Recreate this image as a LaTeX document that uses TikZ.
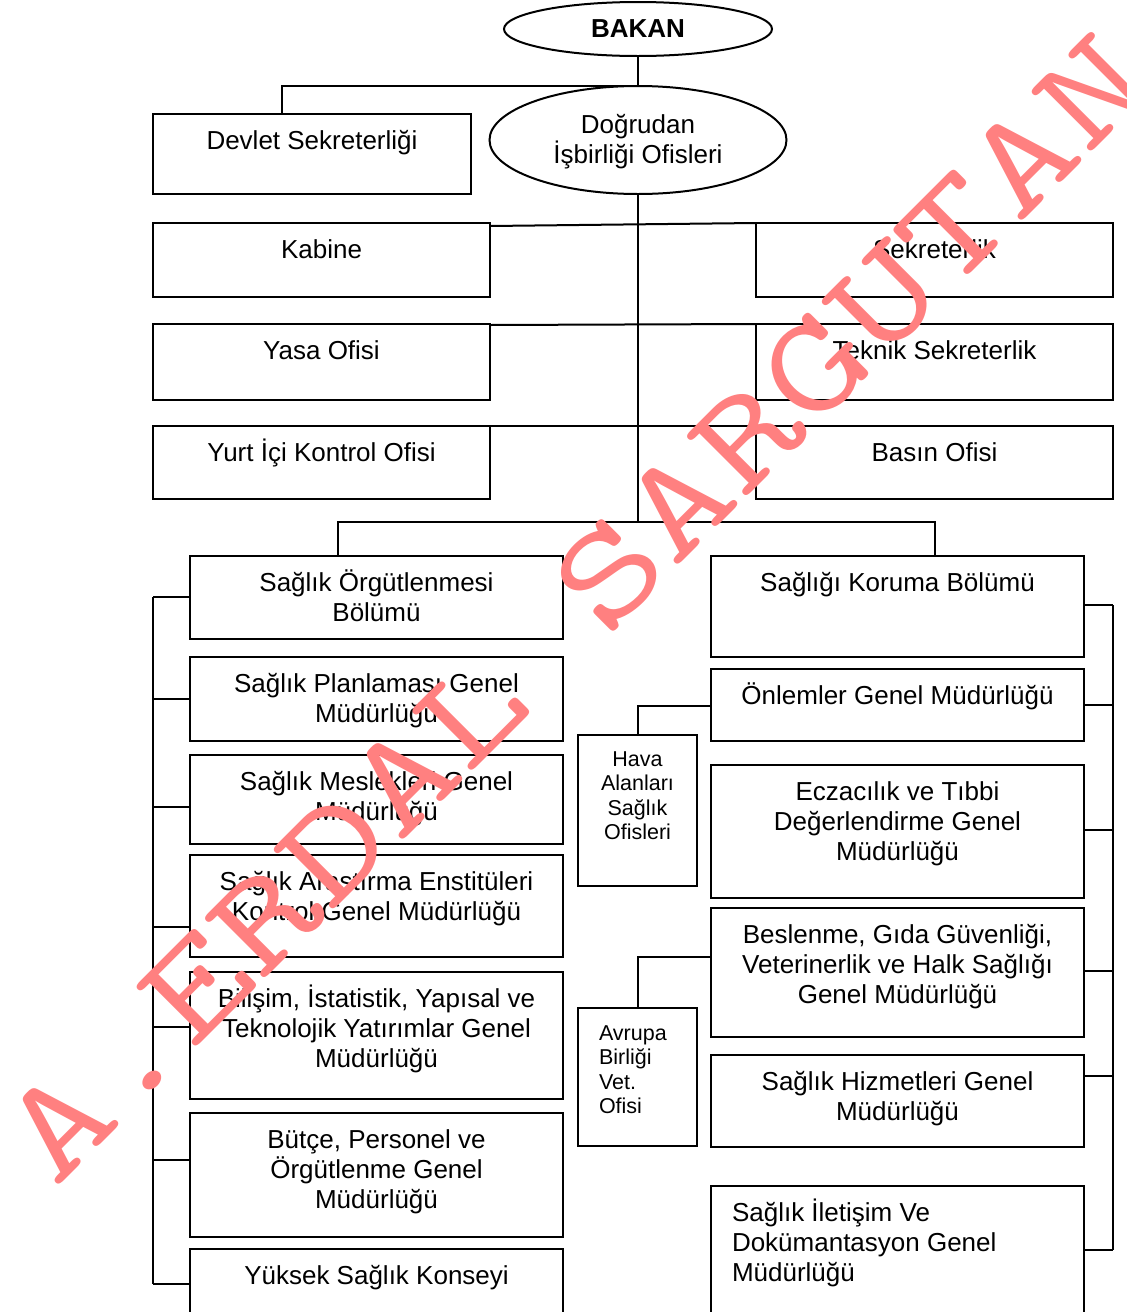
\documentclass[tikz,border=0pt]{standalone}
\usepackage{fontspec}
\setmainfont{Liberation Sans}
\newfontfamily\wmfont[FakeStretch=1.34]{Latin Modern Mono}
\usetikzlibrary{shapes.geometric}
\definecolor{wmc}{RGB}{255,128,128}
\newcommand{\ct}[1]{\parbox[t]{370pt}{\centering #1}}
\newcommand{\lt}[2]{\parbox[t]{#1}{\raggedright #2}}
\tikzset{
  bx/.style={draw, line width=2pt, inner sep=0pt, outer sep=0pt, anchor=north west},
  ov/.style={draw, ellipse, line width=2pt, inner sep=0pt, outer sep=0pt},
  cn/.style={line width=2pt},
  tbig/.style={font=\fontsize{26}{30}\selectfont, inner sep=0pt, outer sep=0pt, anchor=base},
  tsmall/.style={font=\fontsize{21.5}{24.6}\selectfont, inner sep=0pt, outer sep=0pt, anchor=base},
  wm/.style={text=wmc, font=\wmfont\fontsize{141}{141}\selectfont, inner sep=0pt, outer sep=0pt, rotate=45, anchor=base west}
}
\begin{document}
\begin{tikzpicture}[x=1pt,y=-1pt]
\useasboundingbox (0,0) rectangle (1127,1312);
\clip (0,0) rectangle (1127,1312);
\fill[white] (0,0) rectangle (1127,1312);

% top
\node[ov, minimum width=268pt, minimum height=54pt, font=\bfseries\fontsize{26}{30}\selectfont] (bakan) at (638,29) {BAKAN};
\node[ov, minimum width=297pt, minimum height=108pt] (dogru) at (638,140) {};
\node[tbig] (dogruT) at ([yshift=7pt]dogru.center) {\ct{Doğrudan\\İşbirliği Ofisleri}};

\node[bx, minimum width=318pt, minimum height=80pt] (devlet) at (153,114) {};
\node[bx, minimum width=337pt, minimum height=74pt] (kabine) at (153,223) {};
\node[bx, minimum width=357pt, minimum height=74pt] (sek) at (756,223) {};
\node[bx, minimum width=337pt, minimum height=76pt] (yasa) at (153,324) {};
\node[bx, minimum width=357pt, minimum height=76pt] (teknik) at (756,324) {};
\node[bx, minimum width=337pt, minimum height=73pt] (yurt) at (153,426) {};
\node[bx, minimum width=357pt, minimum height=73pt] (basin) at (756,426) {};

\node[tbig] (devletT) at ([yshift=-35pt]devlet.north) {Devlet Sekreterliği};
\node[tbig] (kabineT) at ([yshift=-35pt]kabine.north) {Kabine};
\node[tbig] (sekT) at ([yshift=-35pt]sek.north) {Sekreterlik};
\node[tbig] (yasaT) at ([yshift=-35pt]yasa.north) {Yasa Ofisi};
\node[tbig] (teknikT) at ([yshift=-35pt]teknik.north) {Teknik Sekreterlik};
\node[tbig] (yurtT) at ([yshift=-35pt]yurt.north) {Yurt İçi Kontrol Ofisi};
\node[tbig] (basinT) at ([yshift=-35pt]basin.north) {Basın Ofisi};

% left column
\node[bx, minimum width=373pt, minimum height=83pt] (orgut) at (190,556) {};
\node[bx, minimum width=373pt, minimum height=84pt] (plan) at (190,657) {};
\node[bx, minimum width=373pt, minimum height=89pt] (meslek) at (190,755) {};
\node[bx, minimum width=373pt, minimum height=102pt] (arastirma) at (190,855) {};
\node[bx, minimum width=373pt, minimum height=127pt] (bilisim) at (190,972) {};
\node[bx, minimum width=373pt, minimum height=124pt] (butce) at (190,1113) {};
\node[bx, minimum width=373pt, minimum height=90pt] (yuksek) at (190,1249) {};

\node[tbig] (orgutT) at ([yshift=-35pt]orgut.north) {\ct{Sağlık Örgütlenmesi\\Bölümü}};
\node[tbig] (planT) at ([yshift=-35pt]plan.north) {\ct{Sağlık Planlaması Genel\\Müdürlüğü}};
\node[tbig] (meslekT) at ([yshift=-35pt]meslek.north) {\ct{Sağlık Meslekleri Genel\\Müdürlüğü}};
\node[tbig] (arastirmaT) at ([yshift=-35pt]arastirma.north) {\ct{Sağlık Araştırma Enstitüleri\\Kontrol Genel Müdürlüğü}};
\node[tbig] (bilisimT) at ([yshift=-35pt]bilisim.north) {\ct{Bilişim, İstatistik, Yapısal ve\\Teknolojik Yatırımlar Genel\\Müdürlüğü}};
\node[tbig] (butceT) at ([yshift=-35pt]butce.north) {\ct{Bütçe, Personel ve\\Örgütlenme Genel\\Müdürlüğü}};
\node[tbig] (yuksekT) at ([yshift=-35pt]yuksek.north) {Yüksek Sağlık Konseyi};

% right column
\node[bx, minimum width=373pt, minimum height=101pt] (koruma) at (711,556) {};
\node[bx, minimum width=373pt, minimum height=72pt] (onlem) at (711,669) {};
\node[bx, minimum width=373pt, minimum height=133pt] (eczaci) at (711,765) {};
\node[bx, minimum width=373pt, minimum height=129pt] (beslenme) at (711,908) {};
\node[bx, minimum width=373pt, minimum height=92pt] (hizmet) at (711,1055) {};
\node[bx, minimum width=373pt, minimum height=140pt] (iletisim) at (711,1186) {};

\node[tbig] (korumaT) at ([yshift=-35pt]koruma.north) {Sağlığı Koruma Bölümü};
\node[tbig] (onlemT) at ([yshift=-35pt]onlem.north) {Önlemler Genel Müdürlüğü};
\node[tbig] (eczaciT) at ([yshift=-35pt]eczaci.north) {\ct{Eczacılık ve Tıbbi\\Değerlendirme Genel\\Müdürlüğü}};
\node[tbig] (beslenmeT) at ([yshift=-35pt]beslenme.north) {\ct{Beslenme, Gıda Güvenliği,\\Veterinerlik ve Halk Sağlığı\\Genel Müdürlüğü}};
\node[tbig] (hizmetT) at ([yshift=-35pt]hizmet.north) {\ct{Sağlık Hizmetleri Genel\\Müdürlüğü}};
\node[tbig, anchor=base west] (iletisimT) at ([xshift=21pt,yshift=-35pt]iletisim.north west) {\lt{360pt}{Sağlık İletişim Ve\\Dokümantasyon Genel\\Müdürlüğü}};

% middle small boxes
\node[bx, minimum width=119pt, minimum height=151pt] (hava) at (578,735) {};
\node[bx, minimum width=119pt, minimum height=138pt] (avrupa) at (578,1008) {};
\node[tsmall] (havaT) at ([yshift=-31pt]hava.north) {\parbox[t]{119pt}{\centering Hava\\Alanları\\Sağlık\\Ofisleri}};
\node[tsmall, anchor=base west] (avrupaT) at ([xshift=21pt,yshift=-32pt]avrupa.north west) {\lt{100pt}{Avrupa\\Birliği\\Vet.\\Ofisi}};

% connectors
\draw[cn] (bakan.south) -- (dogru.north);
\draw[cn] (dogru.north) -| ([xshift=-30pt]devlet.north);
\coordinate (tj) at (638,522);
\draw[cn] (dogru.south) -- (tj);
\draw[cn] ([yshift=-3pt]kabine.north east) -- (sek.north west);
\draw[cn] ([yshift=-1pt]yasa.north east) -- (teknik.north west);
\draw[cn] (yurt.north east) -- (basin.north west);
\draw[cn] ([xshift=-38.5pt]orgut.north) |- (tj) -| ([xshift=37.5pt]koruma.north);

% left bus
\coordinate (lbt) at (153,597);
\coordinate (lbb) at (153,1284);
\draw[cn] (lbt) -- (lbb);
\draw[cn] ([yshift=-41pt]orgut.north west) -- (lbt);
\draw[cn] ([yshift=-42pt]plan.north west) -- ++(-37,0);
\draw[cn] ([yshift=-52pt]meslek.north west) -- ++(-37,0);
\draw[cn] ([yshift=-72pt]arastirma.north west) -- ++(-37,0);
\draw[cn] ([yshift=-55pt]bilisim.north west) -- ++(-37,0);
\draw[cn] ([yshift=-47pt]butce.north west) -- ++(-37,0);
\draw[cn] ([yshift=-35pt]yuksek.north west) -- (lbb);

% right bus
\coordinate (rbt) at (1113,605);
\coordinate (rbb) at (1113,1250);
\draw[cn] (rbt) -- (rbb);
\draw[cn] ([yshift=-49pt]koruma.north east) -- (rbt);
\draw[cn] ([yshift=-36pt]onlem.north east) -- ++(29,0);
\draw[cn] ([yshift=-65pt]eczaci.north east) -- ++(29,0);
\draw[cn] ([yshift=-63pt]beslenme.north east) -- ++(29,0);
\draw[cn] ([yshift=-21pt]hizmet.north east) -- ++(29,0);
\draw[cn] ([yshift=-64pt]iletisim.north east) -- (rbb);

% middle connectors
\draw[cn] (hava.north) |- ([yshift=-37pt]onlem.north west);
\draw[cn] (avrupa.north) |- ([yshift=-49pt]beslenme.north west);

% watermark
\node[wm] (wmark) at (55,1189) {A.ERDAL SARGUTAN};
\end{tikzpicture}
\end{document}
